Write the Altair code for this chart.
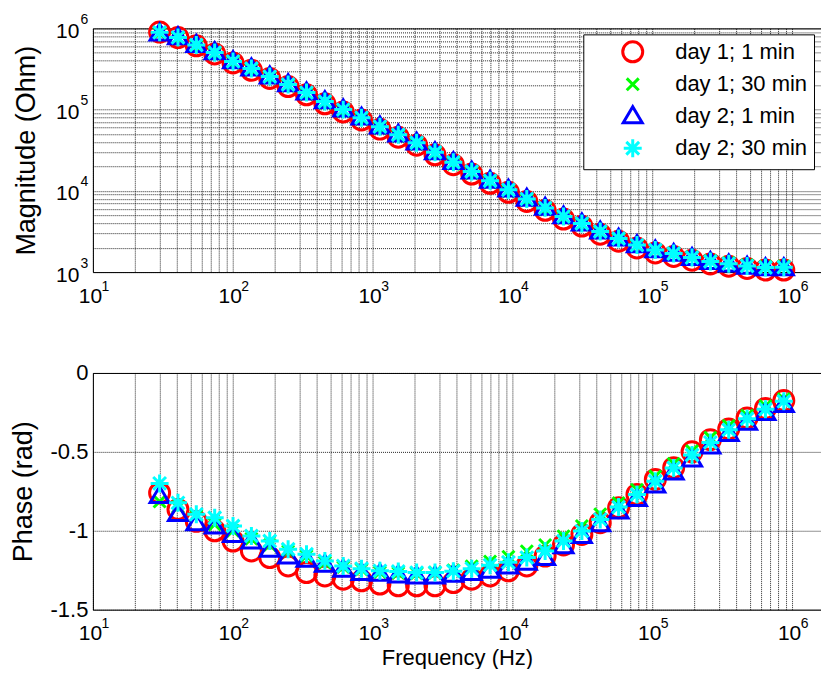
import altair as alt
import pandas as pd

FONT = "Liberation Sans"

# ---------------- data ----------------
freq = [30, 40.6, 54.9, 74.3, 100.5, 136, 184, 249, 337, 456, 617, 834,
        1129, 1527, 2066, 2796, 3783, 5118, 6925, 9369, 12677, 17152,
        23207, 31399, 42483, 57480, 77770, 105222, 142366, 192621,
        260616, 352613, 477085, 645495, 873355]

series_names = ["day 1; 1 min", "day 1; 30 min", "day 2; 1 min", "day 2; 30 min"]
series_colors = ["#FF0000", "#00FF00", "#0000FF", "#00FFFF"]
series_shapes = [
    "circle",
    "M-0.6,-0.6L0.6,0.6M-0.6,0.6L0.6,-0.6",
    "M-0.95,0.7L0.95,0.7L0,-0.9Z",
    "M-0.9,0L0.9,0M0,-0.9L0,0.9M-0.64,-0.64L0.64,0.64M-0.64,0.64L0.64,-0.64",
]

mag_d1_1 = [900000, 770000, 610000, 485000, 375000, 305000, 242000, 192000, 152000,
            118000, 93500, 74500, 57500, 45800, 36500, 27800, 21000, 16100, 12400,
            9600, 7400, 5750, 4500, 3680, 2930, 2400, 1980, 1720, 1560, 1400,
            1260, 1180, 1110, 1060, 1060]
mag_d1_30 = [870000, 750000, 600000, 485000, 375000, 308000, 245000, 195000, 155000,
             120000, 95500, 76000, 59000, 47000, 37400, 28400, 21400, 16500, 12700,
             9850, 7600, 5900, 4650, 3820, 3050, 2520, 2110, 1860, 1700, 1530,
             1380, 1300, 1220, 1170, 1180]
mag_d2_1 = [880000, 790000, 635000, 515000, 400000, 326000, 260000, 208000, 165000,
            128500, 102000, 81000, 63000, 50000, 39800, 30300, 22900, 17500, 13500,
            10500, 8100, 6280, 4920, 4030, 3200, 2620, 2170, 1880, 1700, 1510,
            1350, 1260, 1180, 1130, 1130]
mag_d2_30 = [893000, 774000, 625000, 505000, 392000, 321000, 255000, 204000, 162000,
             126000, 100000, 79600, 61700, 49100, 39100, 29800, 22500, 17300, 13300,
             10300, 7960, 6170, 4840, 3970, 3160, 2590, 2150, 1870, 1690, 1510,
             1350, 1270, 1190, 1140, 1150]

phase_d1_1 = [-0.76, -0.865, -0.94, -1.0, -1.065, -1.128, -1.17, -1.223, -1.265,
              -1.286, -1.307, -1.317, -1.338, -1.349, -1.349, -1.349, -1.328, -1.307,
              -1.286, -1.254, -1.223, -1.16, -1.09, -1.023, -0.949, -0.854, -0.77,
              -0.675, -0.6, -0.5, -0.423, -0.355, -0.285, -0.225, -0.175]
phase_d1_30 = [-0.815, -0.85, -0.905, -0.96, -1.0, -1.05, -1.09, -1.13, -1.16,
               -1.2, -1.23, -1.245, -1.262, -1.268, -1.27, -1.265, -1.25, -1.225,
               -1.195, -1.165, -1.13, -1.09, -1.035, -0.97, -0.895, -0.825, -0.74,
               -0.655, -0.575, -0.495, -0.41, -0.335, -0.27, -0.21, -0.165]
phase_d2_1 = [-0.777, -0.89, -0.95, -0.97, -1.023, -1.065, -1.117, -1.16, -1.18,
              -1.212, -1.244, -1.265, -1.27, -1.28, -1.286, -1.286, -1.275, -1.265,
              -1.25, -1.223, -1.2, -1.17, -1.095, -1.03, -0.955, -0.875, -0.795,
              -0.71, -0.627, -0.545, -0.463, -0.383, -0.312, -0.25, -0.2]
phase_d2_30 = [-0.70, -0.823, -0.896, -0.918, -0.97, -1.033, -1.065, -1.117, -1.149,
               -1.191, -1.223, -1.24, -1.254, -1.258, -1.265, -1.265, -1.256, -1.24,
               -1.218, -1.2, -1.17, -1.128, -1.065, -1.002, -0.928, -0.85, -0.77,
               -0.686, -0.602, -0.52, -0.44, -0.36, -0.29, -0.23, -0.18]

x_decades = [10, 100, 1000, 10000, 100000, 1000000]
x_grid = [10, 20, 30, 40, 50, 60, 70, 80, 90,
          100, 200, 300, 400, 500, 600, 700, 800, 900,
          1000, 2000, 3000, 4000, 5000, 6000, 7000, 8000, 9000,
          10000, 20000, 30000, 40000, 50000, 60000, 70000, 80000, 90000,
          100000, 200000, 300000, 400000, 500000, 600000, 700000, 800000, 900000,
          1000000]
y_mag_decades = [1000, 10000, 100000, 1000000]
y_mag_grid = [1000, 2000, 3000, 4000, 5000, 6000, 7000, 8000, 9000,
              10000, 20000, 30000, 40000, 50000, 60000, 70000, 80000, 90000,
              100000, 200000, 300000, 400000, 500000, 600000, 700000, 800000, 900000,
              1000000]
y_phase_ticks = [0, -0.5, -1, -1.5]

rows = []
for name, mags, phs in zip(series_names,
                           [mag_d1_1, mag_d1_30, mag_d2_1, mag_d2_30],
                           [phase_d1_1, phase_d1_30, phase_d2_1, phase_d2_30]):
    for f, m, p in zip(freq, mags, phs):
        rows.append({"series": name, "freq": f, "mag": m, "phase": p})
df = pd.DataFrame(rows)

# ---------------- styling helpers ----------------
decade_expr = "abs(log(datum.value)/LN10 - round(log(datum.value)/LN10)) < 0.001 ? '10' : ''"
exp_expr = "'' + round(log(datum.value)/LN10)"
GRID = dict(grid=True, gridColor="#000000", gridDash=[1, 1], gridWidth=1, gridOpacity=0.85)
FRAME = dict(domain=True, domainColor="#000000", domainWidth=1)

# x range shown: 10 ... ~1.6e6 (the reference is cropped at the right edge)
xs = alt.Scale(type="log", domain=[10, 1611000], nice=False)
ys_mag = alt.Scale(type="log", domain=[1000, 1000000], nice=False)
ys_ph = alt.Scale(domain=[-1.5, 0], nice=False, zero=False)

color_scale = alt.Scale(domain=series_names, range=series_colors)
shape_scale = alt.Scale(domain=series_names, range=series_shapes)

legend = alt.Legend(title=None, orient="none", legendX=491, legendY=6,
                    direction="vertical", strokeColor="black", fillColor="white",
                    padding=6, cornerRadius=0, labelFont=FONT, labelFontSize=22,
                    labelColor="black", symbolSize=400, symbolStrokeWidth=3,
                    symbolOffset=32, labelOffset=31, rowPadding=3.5)


def x_main(title=None):
    kw = dict(orient="bottom", values=x_grid, ticks=False,
              labelExpr=decade_expr, labelFontSize=21, labelPadding=13,
              labelOffset=-3, labelOverlap=False, labelFlush=False,
              labelBound=False, minExtent=35, maxExtent=35, **GRID, **FRAME)
    if title:
        return alt.Axis(title=title, titleFontSize=22, titlePadding=3, **kw)
    return alt.Axis(title=None, **kw)


def x_exp():
    return alt.Axis(orient="bottom", values=x_decades, grid=False, ticks=False,
                    domain=False, labelExpr=exp_expr, labelFontSize=14,
                    labelPadding=7, labelOffset=12, labelOverlap=False,
                    labelFlush=False, labelBound=False, title=None)


def x_top_frame():
    return alt.Axis(orient="top", values=x_decades, grid=False, ticks=False,
                    labels=False, title=None, **FRAME)


y_mag_main = alt.Axis(orient="left", values=y_mag_grid, ticks=False,
                      labelExpr=decade_expr, labelFontSize=21, labelPadding=14,
                      labelOffset=3, labelOverlap=False, labelBound=False,
                      minExtent=37, maxExtent=37,
                      title="Magnitude (Ohm)", titleFontSize=27, titlePadding=15,
                      **GRID, **FRAME)
y_mag_exp = alt.Axis(orient="left", values=y_mag_decades, grid=False, ticks=False,
                     domain=False, labelExpr=exp_expr, labelFontSize=14,
                     labelPadding=5, labelOffset=-9, labelOverlap=False,
                     labelBound=False, title=None)
y_ph_axis = alt.Axis(orient="left", values=y_phase_ticks, ticks=False,
                     labelExpr="'' + datum.value", labelFontSize=22, labelPadding=5,
                     labelOverlap=False, labelBound=False, minExtent=41, maxExtent=41,
                     title="Phase (rad)", titleFontSize=27, titlePadding=14,
                     **GRID, **FRAME)

PLOT_W = 729

# ---------------- top panel ----------------
top_pts = alt.Chart(df).mark_point(filled=False, size=400, strokeWidth=3, opacity=1).encode(
    x=alt.X("freq:Q", scale=xs, axis=x_main()),
    y=alt.Y("mag:Q", scale=ys_mag, axis=y_mag_main),
    color=alt.Color("series:N", scale=color_scale, legend=legend),
    shape=alt.Shape("series:N", scale=shape_scale, legend=legend),
)
top_exp = alt.Chart(df).mark_point(opacity=0).encode(
    x=alt.X("freq:Q", scale=xs, axis=x_exp()),
    y=alt.Y("mag:Q", scale=ys_mag, axis=y_mag_exp),
)
top_frame = alt.Chart(df).mark_point(opacity=0).encode(
    x=alt.X("freq:Q", scale=xs, axis=x_top_frame()),
    y=alt.Y("mag:Q", scale=ys_mag, axis=None),
)
top = alt.layer(top_pts, top_exp, top_frame).resolve_axis(
    x="independent", y="independent").properties(width=PLOT_W, height=244)

# ---------------- bottom panel ----------------
bot_pts = alt.Chart(df).mark_point(filled=False, size=400, strokeWidth=3, opacity=1).encode(
    x=alt.X("freq:Q", scale=xs, axis=x_main("Frequency (Hz)")),
    y=alt.Y("phase:Q", scale=ys_ph, axis=y_ph_axis),
    color=alt.Color("series:N", scale=color_scale, legend=None),
    shape=alt.Shape("series:N", scale=shape_scale, legend=None),
)
bot_exp = alt.Chart(df).mark_point(opacity=0).encode(
    x=alt.X("freq:Q", scale=xs, axis=x_exp()),
    y=alt.Y("phase:Q", scale=ys_ph, axis=None),
)
bot_frame = alt.Chart(df).mark_point(opacity=0).encode(
    x=alt.X("freq:Q", scale=xs, axis=x_top_frame()),
    y=alt.Y("phase:Q", scale=ys_ph, axis=None),
)
bottom = alt.layer(bot_pts, bot_exp, bot_frame).resolve_axis(
    x="independent", y="independent").properties(width=PLOT_W, height=237)

chart = alt.vconcat(top, bottom, spacing=101, bounds="flush").resolve_scale(
    color="independent", shape="independent"
).properties(
    padding={"left": 2, "top": 4, "right": 0, "bottom": 0},
    background="white",
).configure(font=FONT).configure_view(
    stroke=None
).configure_axis(
    labelColor="black", titleColor="black", titleFontWeight="normal",
    labelFont=FONT, titleFont=FONT,
)

chart.save("out.html", embed_options={"renderer": "svg", "actions": False})
